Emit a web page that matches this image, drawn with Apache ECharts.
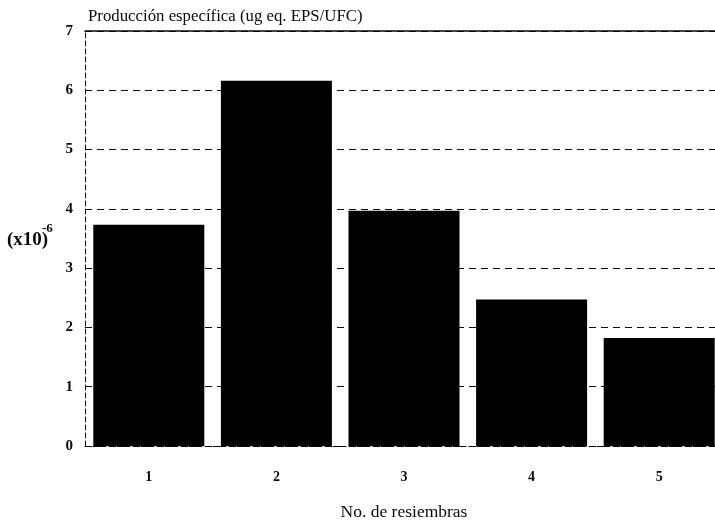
<!DOCTYPE html>
<html>
<head>
<meta charset="utf-8">
<script src="https://cdn.jsdelivr.net/npm/echarts@6/dist/echarts.min.js"></script>
<style>
  html, body { margin: 0; padding: 0; background: #fff; overflow: hidden; }
  #chart { width: 715px; height: 522px; }
</style>
</head>
<body>
<div id="chart"></div>
<script>
// Specific EPS production per subculture (x10^-6 ug eq. EPS/UFC)
const categories = ['1', '2', '3', '4', '5'];
const production = [3.73, 6.16, 3.97, 2.47, 1.82];
const yTicks = [0, 1, 2, 3, 4, 5, 6, 7];

const serif = '"Liberation Serif", "DejaVu Serif", serif';
const ink = '#0a0a0a';

const chart = echarts.init(document.getElementById('chart'), null, { renderer: 'canvas' });

chart.setOption({
  backgroundColor: '#ffffff',
  animation: false,
  title: {
    text: 'Producción específica (ug eq. EPS/UFC)',
    left: 83,
    top: 3,
    textStyle: { fontFamily: serif, fontSize: 16.8, fontWeight: 'normal', color: ink }
  },
  // the plot frame runs a few pixels past the right edge of the canvas
  grid: { left: 85, top: 31, width: 638, height: 415, containLabel: false, outerBoundsMode: 'none' },
  xAxis: [
    {
      type: 'category',
      data: categories,
      position: 'bottom',
      axisLine: { lineStyle: { color: ink, width: 1, type: [5, 3] } },
      axisTick: { alignWithLabel: true, length: 7, lineStyle: { color: ink, width: 1.5 } },
      axisLabel: { margin: 24, fontFamily: serif, fontSize: 14, fontWeight: 'bold', color: ink },
      name: 'No. de resiembras',
      nameLocation: 'middle',
      nameGap: 57,
      nameTextStyle: { fontFamily: serif, fontSize: 17.5, color: ink }
    },
    {
      type: 'category',
      data: categories,
      position: 'top',
      axisLine: { lineStyle: { color: ink, width: 1.5 } },
      axisTick: { show: false },
      axisLabel: { show: false }
    }
  ],
  yAxis: {
    type: 'value',
    min: yTicks[0],
    max: yTicks[yTicks.length - 1],
    interval: 1,
    axisLine: { show: true, lineStyle: { color: ink, width: 1, type: [5, 3] } },
    axisTick: { show: true, inside: true, length: 3, lineStyle: { color: ink } },
    axisLabel: {
      margin: 12,
      fontFamily: serif, fontSize: 15, fontWeight: 'bold', color: ink,
      formatter: v => (yTicks.includes(v) ? String(v) : '')
    },
    splitLine: { show: true, lineStyle: { color: ink, width: 1.2, type: [7, 5] } }
  },
  graphic: [
    {
      type: 'text', left: 7, top: 231,
      style: { text: '(x10)', fontFamily: serif, fontSize: 19, fontWeight: 'bold', fill: ink }
    },
    {
      type: 'text', left: 42, top: 222,
      style: { text: '-6', fontFamily: serif, fontSize: 13, fontWeight: 'bold', fill: ink }
    }
  ],
  series: [
    {
      type: 'bar',
      data: production,
      barCategoryGap: '13%',
      itemStyle: { color: '#000000' }
    }
  ]
});
</script>
</body>
</html>
